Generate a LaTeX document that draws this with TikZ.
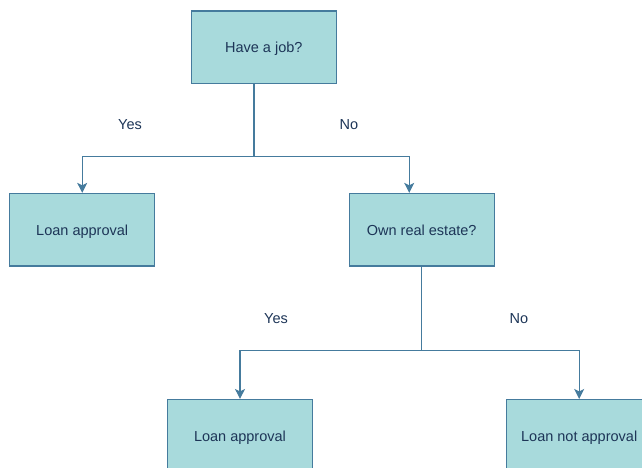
\documentclass[tikz,border=0pt]{standalone}
\usepackage{fontspec}
\setmainfont{Liberation Sans}
\usetikzlibrary{arrows.meta}
\definecolor{boxfill}{HTML}{A8DADC}
\definecolor{boxline}{HTML}{457B9D}
\definecolor{boxtext}{HTML}{1D3557}

\begin{document}
\begin{tikzpicture}[x=1pt, y=-1pt,
	every node/.style = {text=boxtext, font=\fontsize{14.5}{17}\selectfont},
	decision/.style = {draw=boxline, fill=boxfill, line width=1.2pt, minimum width=145pt, minimum height=72.5pt, inner sep=0pt, text height=12pt, text depth=0.5pt},
	flow/.style = {draw=boxline, line width=1.1pt, -{Stealth[length=10pt, width=10pt, inset=2.5pt]}},
	link/.style = {draw=boxline, line width=1.1pt}]
	% Page frame (the bottom boxes run off the edge)
	\clip (0,0) rectangle (642,468);
	
	% Boxes
	\node[decision] (job)    at (263.8,47.2)  {Have a job?};
	\node[decision] (loanA)  at (82.2,229.7)  {Loan approval};
	\node[decision] (estate) at (421.7,229.7) {Own real estate?};
	\node[decision] (loanB)  at (240,435.8)   {Loan approval};
	\node[decision] (deny)   at (579.2,435.8) {Loan not approval};
	
	% Split points
	\coordinate (splitA) at (254,156.7);
	\coordinate (splitB) at (421.7,350.7);
	
	% First question
	\draw[link] (splitA |- job.south) -- (splitA);
	\draw[flow] (splitA) -| (loanA.north);
	\draw[flow] (splitA) -| ([xshift=-12.5pt]estate.north);
	\node (yesA) at (130,125) {Yes};
	\node (noA)  at (349,125) {No};
	
	% Second question
	\draw[link] (estate.south) -- (splitB);
	\draw[flow] (splitB) -| (loanB.north);
	\draw[flow] (splitB) -| (deny.north);
	\node (yesB) at (276,319) {Yes};
	\node (noB)  at (519,319) {No};
	
\end{tikzpicture}
\end{document}
